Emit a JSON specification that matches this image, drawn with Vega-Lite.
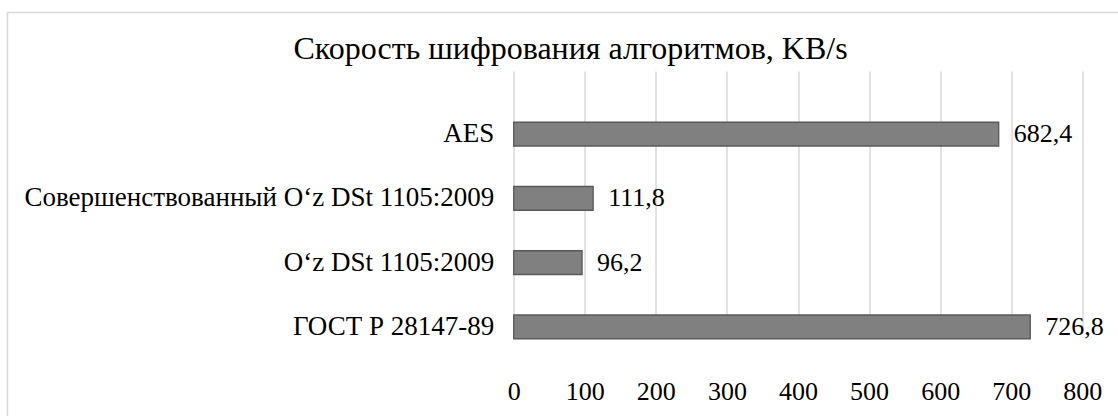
{
  "$schema": "https://vega.github.io/schema/vega-lite/v6.json",
  "autosize": {"type": "none"},
  "padding": {"left": 7.5, "top": 12.5, "right": 0, "bottom": 0},
  "width": 1112,
  "height": 405,
  "background": "white",
  "config": {
    "view": {"stroke": "#d9d9d9", "strokeWidth": 1.5},
    "font": "Liberation Serif",
    "locale": {"number": {"decimal": ",", "thousands": " ", "grouping": [3], "currency": ["", ""]}}
  },
  "title": {
    "text": "Скорость шифрования алгоритмов, KB/s",
    "font": "Liberation Serif",
    "fontSize": 32,
    "fontWeight": "normal",
    "color": "#000000",
    "anchor": "middle",
    "frame": "group",
    "baseline": "alphabetic",
    "offset": 0,
    "dx": 7,
    "dy": 78.5
  },
  "data": {
    "values": [
      {"algorithm": "AES", "speed": 682.4},
      {"algorithm": "Совершенствованный O‘z DSt 1105:2009", "speed": 111.8},
      {"algorithm": "O‘z DSt 1105:2009", "speed": 96.2},
      {"algorithm": "ГОСТ Р 28147-89", "speed": 726.8}
    ]
  },
  "encoding": {
    "y": {
      "field": "algorithm",
      "type": "nominal",
      "sort": null,
      "scale": {"range": [89.5, 346.5], "paddingInner": 0.63, "paddingOuter": 0.315},
      "axis": {
        "title": null,
        "orient": "left",
        "offset": -506.2,
        "domain": false,
        "ticks": false,
        "grid": false,
        "labelPadding": 20,
        "labelFontSize": 27,
        "labelColor": "#000000",
        "labelFont": "Liberation Serif",
        "labelLimit": 600
      }
    },
    "x": {
      "field": "speed",
      "type": "quantitative",
      "scale": {"domain": [0, 800], "range": [506.2, 1074.8], "nice": false, "zero": true},
      "axis": {
        "title": null,
        "orient": "bottom",
        "offset": -58.5,
        "values": [0, 100, 200, 300, 400, 500, 600, 700, 800],
        "format": "d",
        "domain": false,
        "ticks": false,
        "grid": true,
        "gridColor": "#d9d9d9",
        "gridWidth": 1.5,
        "labelPadding": 19,
        "labelFontSize": 26,
        "labelColor": "#000000",
        "labelFont": "Liberation Serif",
        "labelFlush": false,
        "labelOverlap": false
      }
    }
  },
  "layer": [
    {
      "mark": {"type": "bar", "fill": "#808080", "stroke": "#595959", "strokeWidth": 1.3}
    },
    {
      "mark": {"type": "text", "align": "left", "baseline": "middle", "dx": 15, "fontSize": 26, "font": "Liberation Serif", "color": "#000000"},
      "encoding": {"text": {"field": "speed", "type": "quantitative", "format": ".1f"}}
    }
  ]
}
